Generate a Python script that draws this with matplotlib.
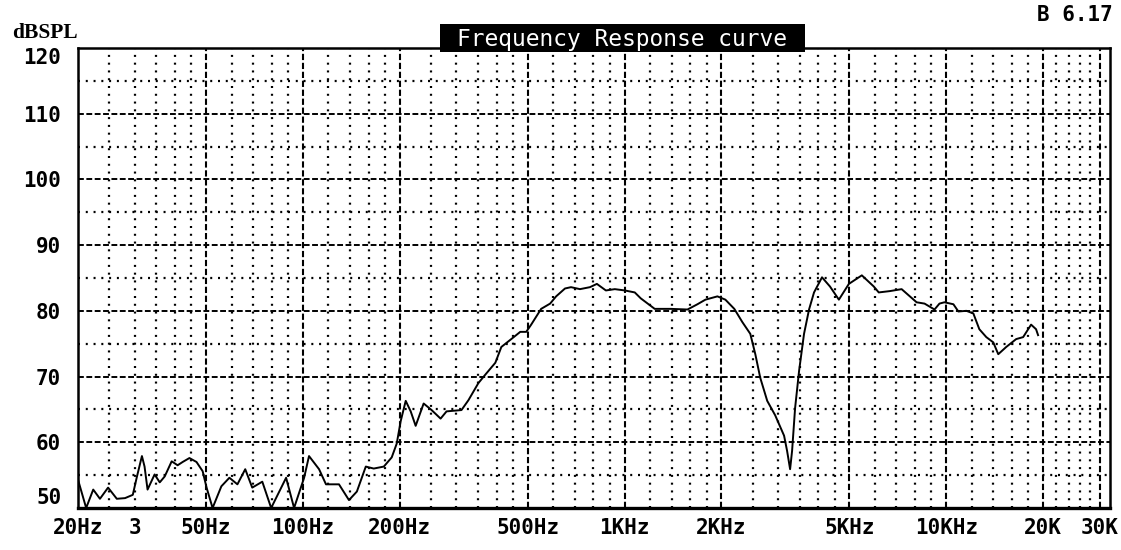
import matplotlib.pyplot as plt
from matplotlib.patches import Rectangle

# frequency response
freq_hz = [20, 21.2, 22.3, 23.4, 24.8, 26.4, 28.0, 29.6, 30.5, 31.6,
           32.2, 32.9, 34.6, 35.9, 37.2, 39.1, 40.8, 42.3, 44.4, 46.7,
           48.8, 50.2, 52.4, 55.8, 59.1, 62.6, 66.2, 69.6, 74.8, 79.7,
           88.7, 93.9, 100.9, 104.5, 112.3, 118, 129.5, 139.1, 147.2, 156.9,
           166.1, 178.5, 188.9, 195.8, 201.4, 208.8, 216.4, 224.2, 237.4, 251.3,
           268, 279.7, 311.2, 327.1, 351.2, 369.3, 396.6, 414, 444.5, 474,
           494.7, 512.6, 550.5, 587, 612.8, 653, 681.6, 726.9, 780.6, 820.4,
           875, 932.8, 1002, 1076, 1123, 1241, 1391, 1569, 1685, 1784,
           1944, 2058, 2194, 2323, 2460, 2550, 2642, 2777, 2940, 3133,
           3201, 3271, 3318, 3390, 3489, 3614, 3746, 3882, 4110, 4352,
           4638, 4982, 5466, 5954, 6170, 6674, 7268, 8090, 8564, 9196,
           9528, 9874, 10528, 10910, 11552, 12144, 12676, 13324, 14006, 14514,
           15366, 16500, 17344, 18360, 19024, 19300]
spl_db = [54.3, 50, 52.8, 51.4, 53.1, 51.4, 51.5, 52.0, 54.8, 57.9,
          56.3, 52.8, 55.1, 53.9, 54.8, 57.1, 56.5, 57.0, 57.6, 57.0,
          55.6, 53.1, 50, 53.3, 54.6, 53.6, 55.9, 53.1, 54.0, 50,
          54.6, 50, 54.6, 57.9, 55.9, 53.6, 53.6, 51.2, 52.5, 56.3,
          56.0, 56.3, 57.7, 59.8, 63.2, 66.3, 64.7, 62.5, 65.9, 64.9,
          63.6, 64.7, 64.9, 66.4, 69.0, 70.3, 72.1, 74.5, 75.7, 76.8,
          76.8, 77.9, 80.3, 81.1, 82.2, 83.4, 83.6, 83.3, 83.6, 84.1,
          83.1, 83.3, 83.1, 82.8, 81.9, 80.3, 80.3, 80.2, 81.0, 81.7,
          82.2, 81.7, 80.3, 78.3, 76.5, 73.4, 69.8, 66.3, 64.1, 61.0,
          58.7, 55.9, 58.7, 65.2, 70.9, 76.5, 80.2, 82.8, 85.1, 83.7,
          81.7, 84.1, 85.4, 83.7, 82.8, 83.0, 83.3, 81.3, 81.1, 80.2,
          81.1, 81.3, 81.0, 79.9, 80.0, 79.6, 77.2, 76.0, 75.2, 73.4,
          74.5, 75.7, 76.0, 77.9, 77.2, 76.3]

x_tick_vals = [20, 30, 50, 100, 200, 500, 1000, 2000, 5000, 10000, 20000, 30000]
x_tick_text = ["20Hz", "3", "50Hz", "100Hz", "200Hz", "500Hz", "1KHz", "2KHz",
               "5KHz", "10KHz", "20K", "30K"]
x_major = [50, 100, 200, 500, 1000, 2000, 5000, 10000, 20000, 30000]
x_minor = [25, 30, 35, 40, 45, 60, 70, 80, 90, 120, 140, 160, 180,
           250, 300, 350, 400, 450, 600, 700, 800, 900, 1200, 1400, 1600, 1800,
           2500, 3000, 3500, 4000, 4500, 6000, 7000, 8000, 9000,
           12000, 14000, 16000, 18000, 22000, 24000, 26000, 28000]
y_tick_vals = [50, 60, 70, 80, 90, 100, 110, 120]
y_major = [60, 70, 80, 90, 100, 110]
y_minor = [55, 65, 75, 85, 95, 105, 115]

fig = plt.figure(figsize=(11.21, 5.5), dpi=100)
ax = fig.add_axes([0.0696, 0.0764, 0.9206, 0.8364])
ax.set_xscale('log')
ax.set_xlim(20, 32300)
ax.set_ylim(50, 120)

# grid: dashed majors, dotted minors
dash = (0, (3, 1.3))
dot = (0, (0.9, 2.6))
for f in x_major:
    ax.axvline(f, color='black', lw=1.5, ls=dash, zorder=1)
for f in x_minor:
    ax.axvline(f, color='black', lw=1.6, ls=dot, zorder=1)
for v in y_major:
    ax.axhline(v, color='black', lw=1.4, ls=dash, zorder=1)
for v in y_minor:
    ax.axhline(v, color='black', lw=1.6, ls=dot, zorder=1)

ax.plot(freq_hz, spl_db, color='black', lw=1.4, zorder=3)

ax.minorticks_off()
ax.set_xticks(x_tick_vals)
ax.set_xticklabels(x_tick_text)
ax.set_yticks(y_tick_vals)
ax.set_yticklabels([str(v) for v in y_tick_vals])
ax.tick_params(length=0)
ax.tick_params(axis='x', pad=7)
ax.tick_params(axis='y', pad=12)
for lab in ax.get_xticklabels() + ax.get_yticklabels():
    lab.set_fontfamily('DejaVu Sans Mono')
    lab.set_fontweight('bold')
    lab.set_fontsize(15)
ylabs = ax.get_yticklabels()
ylabs[0].set_verticalalignment('bottom')
ylabs[-1].set_verticalalignment('top')

for s in ax.spines.values():
    s.set_linewidth(1.8)
ax.spines['bottom'].set_linewidth(2.4)

fig.text(0.011, 0.94, "dBSPL", fontfamily='Liberation Serif', fontweight='bold',
         fontsize=15.5, va='center', ha='left')
# black title plate over the top frame
fig.patches.append(Rectangle((0.3925, 0.9055), 0.3256, 0.0509, transform=fig.transFigure,
                             facecolor='black', edgecolor='none', zorder=5))
fig.text(0.555, 0.929, "Frequency Response curve", fontfamily='DejaVu Sans Mono',
         fontsize=16.5, color='white', ha='center', va='center', zorder=6)
fig.text(0.993, 0.972, "B 6.17", fontfamily='DejaVu Sans Mono', fontweight='bold',
         fontsize=15, ha='right', va='center')

fig.savefig("out.png", dpi=100)
